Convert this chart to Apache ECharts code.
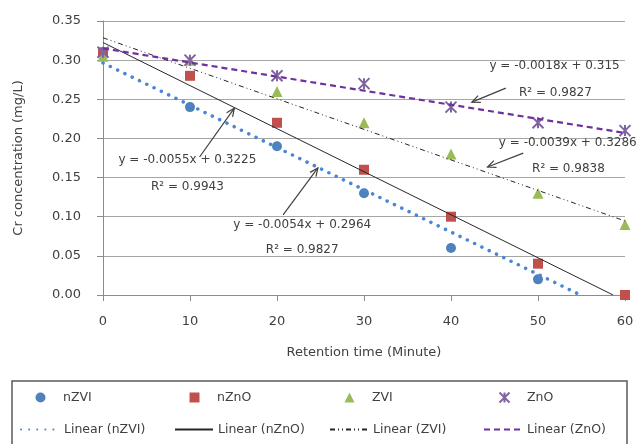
<!DOCTYPE html>
<html>
<head>
<meta charset="utf-8">
<script src="https://cdn.jsdelivr.net/npm/echarts@6/dist/echarts.min.js"></script>
<style>html,body{margin:0;padding:0;background:#fff;}#c{width:638px;height:444px;}</style>
</head>
<body>
<div id="c"></div>
<script>
// ---- data ----
const times = [0, 10, 20, 30, 40, 50, 60];
const nZVI = [0.31, 0.24, 0.19, 0.13, 0.06, 0.02, 0.00];
const nZnO = [0.31, 0.28, 0.22, 0.16, 0.10, 0.04, 0.00];
const ZVI  = [0.305, 0.30, 0.26, 0.22, 0.18, 0.13, 0.09];
const ZnO  = [0.31, 0.30, 0.28, 0.27, 0.24, 0.22, 0.21];
// trendline coefficients as printed on the chart [slope, intercept]
const trendNZVI = [-0.0054, 0.2964];
const trendNZnO = [-0.0055, 0.3225];
const trendZVI  = [-0.0039, 0.3286];
const trendZnO  = [-0.0018, 0.315];
const yTicks = [0, 0.05, 0.10, 0.15, 0.20, 0.25, 0.30, 0.35];
// annotations (data coordinates)
const annoX = [51.9, 52.0, 45.5, 53.5, 9.7, 9.7, 22.9, 22.9];
const annoY = [0.2925, 0.2579, 0.1945, 0.1610, 0.1725, 0.1380, 0.0896, 0.0577];
const annoText = ['y = -0.0018x + 0.315', 'R\u00b2 = 0.9827', 'y = -0.0039x + 0.3286', 'R\u00b2 = 0.9838',
                  'y = -0.0055x + 0.3225', 'R\u00b2 = 0.9943', 'y = -0.0054x + 0.2964', 'R\u00b2 = 0.9827'];
const annoAlign = ['center', 'center', 'left', 'center', 'center', 'center', 'center', 'center'];
// arrows [x1, y1, x2, y2]
const arrows = [
  [46.3, 0.2642, 42.4, 0.2464],
  [48.3, 0.1813, 44.2, 0.1635],
  [11.1, 0.1763, 15.1, 0.2387],
  [20.7, 0.1023, 24.7, 0.1623]
];

const pairs = v => times.map((t, i) => [t, v[i]]);
const xMin = 0, xMax = 60;
function trendLine(c) {
  const m = c[0], b = c[1];
  let xe = xMax;
  if (m * xe + b < 0) xe = -b / m;
  return [[xMin, b], [xe, m * xe + b]];
}

const FONT = 'DejaVu Sans';
const TXT = '#404040';
const chart = echarts.init(document.getElementById('c'), null, {renderer: 'canvas'});

const starPath = 'path://M0,0L10,10M10,0L0,10M5,0L5,10';

function legendMarker(name, textX, top) {
  return {
    data: [name], left: textX - 27.5, top: top, padding: 0,
    itemWidth: 10, itemHeight: 10, itemGap: 0,
    textStyle: {fontFamily: FONT, fontSize: 12.5, color: TXT, padding: [0, 0, 0, 12.5]},
    selectedMode: false
  };
}
function legendLine(name, textX, top) {
  return {
    data: [name], left: textX - 43, top: top, padding: 0,
    itemWidth: 38, itemHeight: 12,
    itemStyle: {opacity: 0},
    textStyle: {fontFamily: FONT, fontSize: 12.5, color: TXT},
    selectedMode: false
  };
}
const colText = [63, 217, 372, 526];
const legends = [
  legendMarker('nZVI', colText[0], 391),
  legendMarker('nZnO', colText[1], 391),
  legendMarker('ZVI', colText[2], 391),
  legendMarker('ZnO', colText[3], 391),
  legendLine('Linear (nZVI)', colText[0], 423),
  legendLine('Linear (nZnO)', colText[1], 423),
  legendLine('Linear (ZVI)', colText[2], 423),
  legendLine('Linear (ZnO)', colText[3], 423)
];

const option = {
  backgroundColor: '#fff',
  animation: false,
  grid: {left: 103, right: 13, top: 21, bottom: 149},
  legend: legends,
  xAxis: {
    type: 'value', min: xMin, max: xMax, interval: 10,
    name: 'Retention time (Minute)', nameLocation: 'middle', nameGap: 51,
    nameTextStyle: {fontFamily: FONT, fontSize: 13, color: TXT},
    axisLine: {show: true, lineStyle: {color: '#8c8c8c', width: 1}},
    axisTick: {show: true, length: 6, lineStyle: {color: '#8c8c8c'}},
    axisLabel: {fontFamily: FONT, fontSize: 13, color: TXT, margin: 20},
    splitLine: {show: false}
  },
  yAxis: {
    type: 'value', min: yTicks[0], max: yTicks[yTicks.length - 1], interval: 0.05,
    name: 'Cr concentration (mg/L)', nameLocation: 'middle', nameGap: 78,
    nameTextStyle: {fontFamily: FONT, fontSize: 13, color: TXT},
    axisLine: {show: true, lineStyle: {color: '#8c8c8c', width: 1}},
    axisTick: {show: true, length: 6, lineStyle: {color: '#8c8c8c'}},
    axisLabel: {fontFamily: FONT, fontSize: 13, color: TXT, margin: 22, formatter: v => v.toFixed(2)},
    splitLine: {show: true, lineStyle: {color: '#a6a6a6', width: 1}}
  },
  graphic: [{
    type: 'rect', shape: {x: 12, y: 381, width: 615, height: 90},
    style: {fill: 'none', stroke: '#595959', lineWidth: 1.5}, silent: true, z: -1
  }],
  series: [
    {name: 'nZVI', type: 'scatter', data: pairs(nZVI), symbol: 'circle', symbolSize: 10,
     itemStyle: {color: '#4F81BD', opacity: 1}, z: 2},
    {name: 'nZnO', type: 'scatter', data: pairs(nZnO), symbol: 'rect', symbolSize: 10,
     itemStyle: {color: '#C0504D', opacity: 1}, z: 2},
    {name: 'ZVI', type: 'scatter', data: pairs(ZVI), symbol: 'triangle', symbolSize: 11,
     itemStyle: {color: '#9BBB59', opacity: 1}, z: 2},
    {name: 'ZnO', type: 'scatter', data: pairs(ZnO), symbol: starPath, symbolSize: 11,
     itemStyle: {color: 'rgba(0,0,0,0)', borderColor: '#8064A2', borderWidth: 2, opacity: 1}, z: 2},
    {name: 'Linear (nZVI)', type: 'line', data: trendLine(trendNZVI), symbol: 'none', showSymbol: false,
     lineStyle: {color: '#4A86D4', width: 3.5, type: [0.1, 8], cap: 'round'}, itemStyle: {color: '#4A86D4'}, z: 3},
    {name: 'Linear (nZnO)', type: 'line', data: trendLine(trendNZnO), symbol: 'none', showSymbol: false,
     lineStyle: {color: '#262626', width: 1, type: 'solid'}, itemStyle: {color: '#262626'}, z: 3},
    {name: 'Linear (ZVI)', type: 'line', data: trendLine(trendZVI), symbol: 'none', showSymbol: false,
     lineStyle: {color: '#262626', width: 1, type: [5, 3, 1, 3, 1, 3]}, itemStyle: {color: '#262626'}, z: 3},
    {name: 'Linear (ZnO)', type: 'line', data: trendLine(trendZnO), symbol: 'none', showSymbol: false,
     lineStyle: {color: '#7030A0', width: 2.2, type: [6, 4]}, itemStyle: {color: '#7030A0'}, z: 3},
    {name: 'arrows', type: 'custom', data: arrows, clip: false, z: 4, silent: true,
     renderItem: function (params, api) {
       const p1 = api.coord([api.value(0), api.value(1)]);
       const p2 = api.coord([api.value(2), api.value(3)]);
       const a = Math.atan2(p2[1] - p1[1], p2[0] - p1[0]);
       const L = 9, s = 0.42;
       const h1 = [p2[0] - L * Math.cos(a - s), p2[1] - L * Math.sin(a - s)];
       const h2 = [p2[0] - L * Math.cos(a + s), p2[1] - L * Math.sin(a + s)];
       return {type: 'group', children: [
         {type: 'line', shape: {x1: p1[0], y1: p1[1], x2: p2[0], y2: p2[1]}, style: {stroke: '#404040', lineWidth: 1.2}},
         {type: 'polyline', shape: {points: [h1, p2, h2]}, style: {stroke: '#404040', lineWidth: 1.2, fill: null}}
       ]};
     }},
    {name: 'labels', type: 'custom', data: annoX.map((x, i) => [x, annoY[i], i]), clip: false, z: 5, silent: true,
     renderItem: function (params, api) {
       const p = api.coord([api.value(0), api.value(1)]);
       const i = api.value(2);
       return {type: 'text', x: p[0], y: p[1], style: {
         text: annoText[i], fill: TXT, font: '12px "' + FONT + '"', align: annoAlign[i], verticalAlign: 'middle'
       }};
     }}
  ]
};
chart.setOption(option);
</script>
</body>
</html>
